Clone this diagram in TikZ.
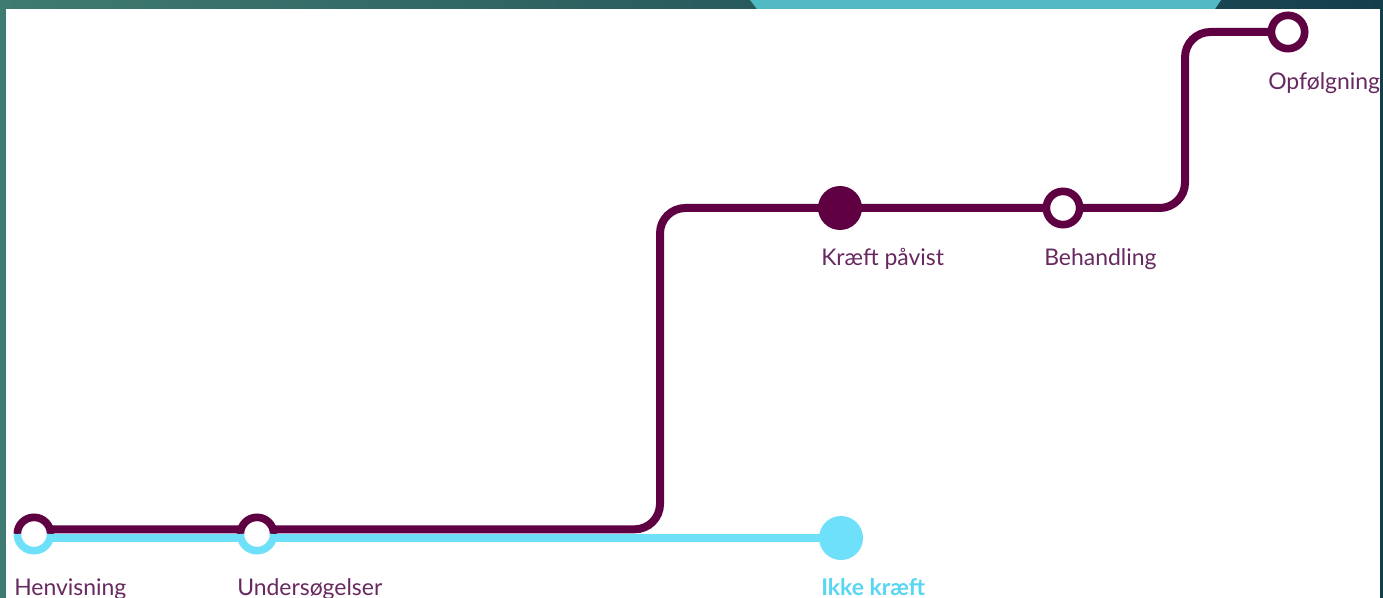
\documentclass[tikz,border=0pt]{standalone}
\usepackage{fontspec}
\setmainfont{Lato}
\usepackage{tikz}
\usetikzlibrary{positioning,calc}
\definecolor{routeplum}{RGB}{94,0,66}
\definecolor{routecyan}{RGB}{110,224,250}
\definecolor{labelplum}{RGB}{104,40,96}
\definecolor{labelcyan}{RGB}{88,214,244}
\definecolor{frameteal}{RGB}{63,123,112}
\definecolor{framedark}{RGB}{20,62,76}
\definecolor{tabteal}{RGB}{82,186,196}
\tikzset{
  plumtrack/.style={line width=6pt,routeplum,rounded corners=19pt},
  cyantrack/.style={line width=6pt,routecyan},
  ringstop/.style={circle,draw=routeplum,line width=5.75pt,fill=white,minimum size=25pt,inner sep=0pt,outer sep=0pt},
  splitstop/.style={circle,fill=white,minimum size=25pt,inner sep=0pt,outer sep=0pt},
  dotstop/.style={circle,minimum size=33pt,inner sep=0pt,outer sep=0pt},
  halfring/.style={line width=5.75pt},
  stoplabel/.style={font=\fontsize{17.2}{20}\selectfont,text=labelplum,inner sep=0pt,anchor=base west},
}
\begin{document}
\begin{tikzpicture}[x=0.75pt,y=0.75pt]
  \useasboundingbox (0,0) rectangle (1383,-598);
  % frame
  \shade[left color=frameteal,right color=framedark] (0,0) rectangle (1383,-598);
  \fill[tabteal] (750,0) -- (1221,0) -- (1215,-9) -- (757,-9) -- cycle;
  \fill[white] (6,-9) rectangle (1380,-598);
  % stop positions
  \coordinate (hen) at (34,-534);
  \coordinate (und) at (257,-534);
  \coordinate (ikke) at (841,-538);
  \coordinate (kp) at (840,-208);
  \coordinate (beh) at (1063,-208);
  \coordinate (opf) at (1288,-32);
  \coordinate (bendlow) at (660,-529.33);
  \coordinate (bendhigh) at (1185,-208);
  % tracks
  \draw[cyantrack] ([yshift=-3pt]hen) -- ([yshift=-3pt]und) -- (ikke);
  \draw[plumtrack] ([yshift=3.5pt]hen) -- ([yshift=3.5pt]und) -- (bendlow) |- (kp) -- (beh) -- (bendhigh) |- (opf);
  % stops
  \node[splitstop] (henS) at (hen) {};
  \draw[halfring,routeplum] (henS.west) arc[start angle=180,end angle=0,radius=12.5pt];
  \draw[halfring,routecyan] (henS.east) arc[start angle=0,end angle=-180,radius=12.5pt];
  \node[splitstop] (undS) at (und) {};
  \draw[halfring,routeplum] (undS.west) arc[start angle=180,end angle=0,radius=12.5pt];
  \draw[halfring,routecyan] (undS.east) arc[start angle=0,end angle=-180,radius=12.5pt];
  \node[dotstop,fill=routecyan] (ikkeS) at (ikke) {};
  \node[dotstop,fill=routeplum] (kpS) at (kp) {};
  \node[ringstop] (behS) at (beh) {};
  \node[ringstop] (opfS) at (opf) {};
  % labels
  \node[stoplabel] (henT) at ($(henS.center)+(-20,-61)$) {Henvisning};
  \node[stoplabel] (undT) at ($(undS.center)+(-20,-61)$) {Undersøgelser};
  \node[stoplabel,text=labelcyan,font=\fontsize{17.2}{20}\selectfont\bfseries] (ikkeT) at ($(ikkeS.center)+(-20,-57)$) {Ikke kræft};
  \node[stoplabel] (kpT) at ($(kpS.center)+(-19,-58)$) {Kræft påvist};
  \node[stoplabel] (behT) at ($(behS.center)+(-19,-58)$) {Behandling};
  \node[stoplabel] (opfT) at ($(opfS.center)+(-20,-58)$) {Opfølgning};
  \fill[framedark] (1380,0) rectangle (1383,-598);
\end{tikzpicture}
\end{document}
